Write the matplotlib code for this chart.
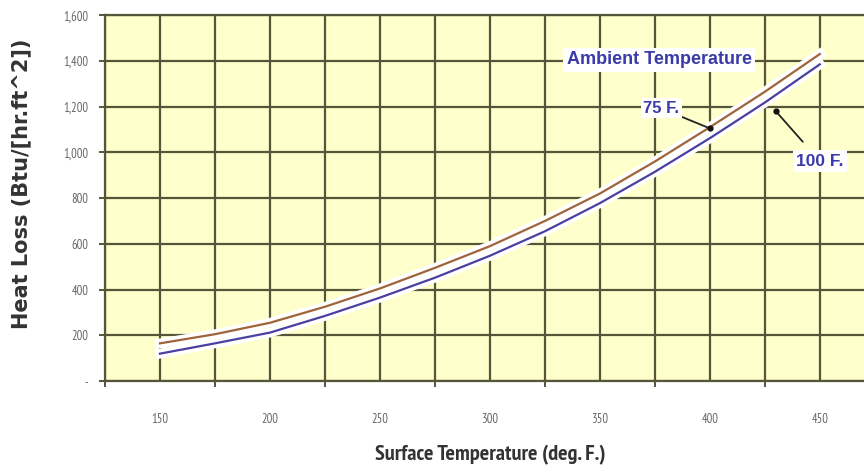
import numpy as np
import matplotlib
matplotlib.use("Agg")
import matplotlib.pyplot as plt
import matplotlib.patheffects as pe
from matplotlib.ticker import FuncFormatter

# surface temperature (deg F) and heat loss for two ambient temperatures
surface_temp = [150, 175, 200, 225, 250, 275, 300, 325, 350, 375, 400, 425, 450]
loss_75 = [165, 205, 255, 325, 405, 495, 590, 700, 820, 960, 1110, 1265, 1430]
loss_100 = [120, 165, 212, 285, 365, 452, 548, 655, 778, 915, 1062, 1218, 1385]

x_labels = [150, 200, 250, 300, 350, 400, 450]
y_ticks = [0, 200, 400, 600, 800, 1000, 1200, 1400, 1600]

grid_col = "#55553a"
bg_col = "#ffffcc"
note_col = "#3a3aa8"
narrow = ["PT Sans Narrow", "DejaVu Sans"]

fig = plt.figure(figsize=(8.64, 4.74), dpi=100)
ax = fig.add_axes([0.1215, 0.196, 0.891, 0.772])
ax.set_facecolor(bg_col)
ax.set_xlim(125, 475)
ax.set_ylim(0, 1600)

# grid: every 25 deg across, every 200 up
ax.xaxis.remove_overlapping_locs = False
ax.set_xticks(np.arange(125, 476, 25))
ax.set_yticks(y_ticks)
ax.grid(True, color=grid_col, linewidth=1.6)
ax.set_axisbelow(True)
ax.tick_params(axis="x", which="major", length=0, labelbottom=False)
ax.set_xticks(x_labels, [str(v) for v in x_labels], minor=True)
ax.tick_params(axis="x", which="minor", length=0, pad=23, labelsize=9,
               labelcolor="#666666")
ax.tick_params(axis="y", length=4, width=1.4, color=grid_col, pad=8,
               labelsize=9, labelcolor="#666666")
ax.yaxis.set_major_formatter(FuncFormatter(lambda v, p: "-" if v == 0 else f"{int(v):,}"))
for lab in ax.get_xticklabels(minor=True) + ax.get_yticklabels():
    lab.set_family(narrow)

sec = ax.secondary_xaxis("bottom")
sec.set_xticks(np.arange(125, 476, 50))
sec.tick_params(length=4, width=1.4, color=grid_col, labelbottom=False)
sec.spines["bottom"].set_visible(False)

for s in ax.spines.values():
    s.set_color(grid_col)
    s.set_linewidth(1.6)
ax.spines["right"].set_visible(False)

halo = [pe.Stroke(linewidth=7, foreground="white"), pe.Normal()]
ax.plot(surface_temp, loss_75, color="#a0643a", linewidth=1.6, path_effects=halo, zorder=3)
ax.plot(surface_temp, loss_100, color="#4a40a0", linewidth=1.6, path_effects=halo, zorder=3)

ax.text(377, 1405, "Ambient Temperature", color=note_col, fontsize=13, fontweight="bold",
        family="Liberation Sans", ha="center", va="center", zorder=4,
        bbox=dict(boxstyle="square,pad=0.2", fc="white", ec="none"))

# label positions and the point on each curve they point at
lab75, pt75 = (378, 1192), (400, 1105)
lab100, pt100 = (450, 962), (430, 1180)
ax.annotate("75 F.", xy=pt75, xytext=lab75, color=note_col, fontsize=12,
            fontweight="bold", family="Liberation Sans", ha="center", va="center",
            bbox=dict(boxstyle="square,pad=0.15", fc="white", ec="none"),
            arrowprops=dict(arrowstyle="-", color="#222222", lw=1.3, shrinkA=0, shrinkB=0),
            zorder=4)
ax.annotate("100 F.", xy=pt100, xytext=lab100, color=note_col, fontsize=12.5,
            fontweight="bold", family="Liberation Sans", ha="center", va="center",
            bbox=dict(boxstyle="square,pad=0.2", fc="white", ec="none"),
            arrowprops=dict(arrowstyle="-", color="#222222", lw=1.3, shrinkA=8, shrinkB=0),
            zorder=4)
ax.plot(*zip(pt75, pt100), linestyle="none", marker="o", markersize=3.5, color="#111111", zorder=5)

ax.set_ylabel("Heat Loss (Btu/[hr.ft^2])", fontsize=15, fontweight="bold",
              color="#333333")
ax.yaxis.set_label_coords(-0.096, 0.54)
fig.text(0.567, 0.04, "Surface Temperature (deg. F.)", fontsize=16, fontweight="bold",
         family=narrow, color="#333333", ha="center", va="center")

fig.savefig("out.png", dpi=100)
